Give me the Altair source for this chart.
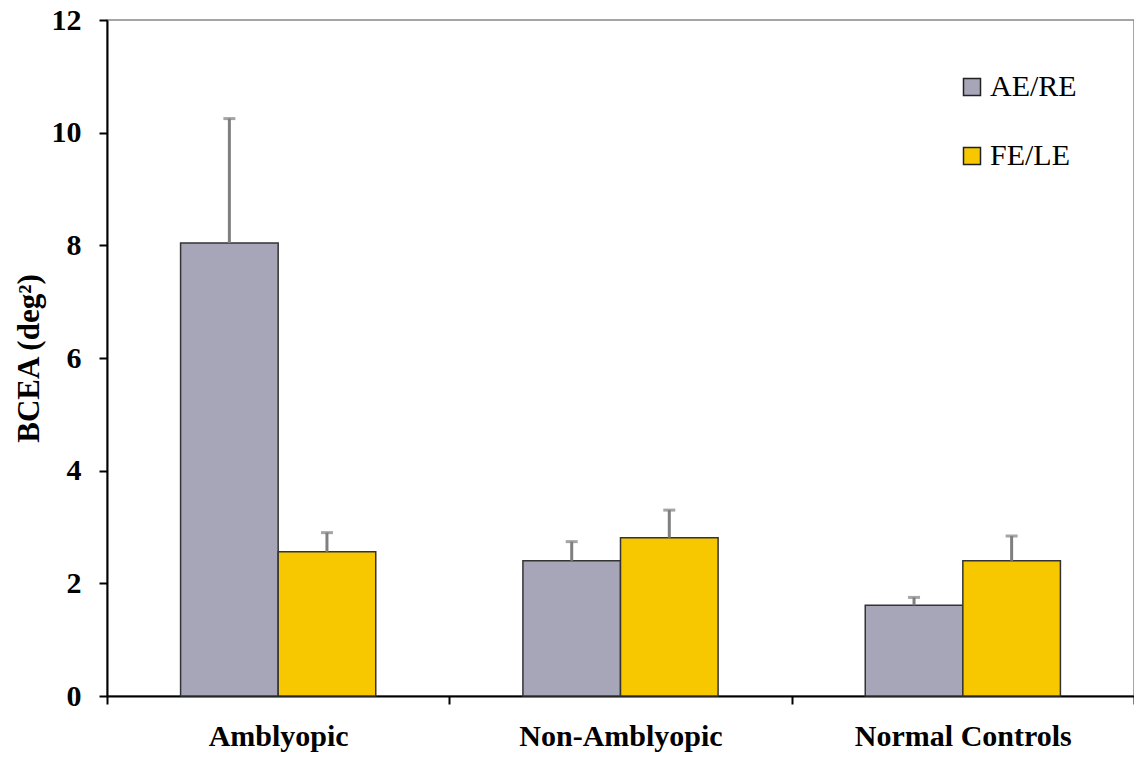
import altair as alt
import pandas as pd

groups = ["Amblyopic", "Non-Amblyopic", "Normal Controls"]
eyes = ["AE/RE", "FE/LE"]
ae_mean = [8.04, 2.40, 1.61]
ae_upper = [10.25, 2.74, 1.75]
fe_mean = [2.56, 2.81, 2.40]
fe_upper = [2.90, 3.30, 2.84]
colors = ["#A7A6B8", "#F7C800"]
y_ticks = [0, 2, 4, 6, 8, 10, 12]

rows = []
for i, g in enumerate(groups):
    rows.append({"group": g, "eye": eyes[0], "mean": ae_mean[i], "upper": ae_upper[i]})
    rows.append({"group": g, "eye": eyes[1], "mean": fe_mean[i], "upper": fe_upper[i]})
df = pd.DataFrame(rows)

FONT = "Liberation Serif"

x_enc = alt.X(
    "group:N",
    sort=groups,
    scale=alt.Scale(paddingInner=0, paddingOuter=0),
    axis=alt.Axis(
        title=None, labelAngle=0, tickBand="extent", tickSize=8, tickWidth=2,
        tickColor="black", domainColor="black", domainWidth=2,
        labelFont=FONT, labelFontSize=30, labelFontWeight="bold", labelColor="black",
        labelPadding=17, labelLimit=0,
    ),
)
xo_enc = alt.XOffset("eye:N", sort=eyes, scale=alt.Scale(paddingInner=0, paddingOuter=0.754))
y_scale = alt.Scale(domain=[0, 12], nice=False)

bars = alt.Chart(df).mark_bar(stroke="#333333", strokeWidth=1.5).encode(
    x=x_enc,
    xOffset=xo_enc,
    y=alt.Y(
        "mean:Q",
        scale=y_scale,
        axis=alt.Axis(
            values=y_ticks, format="d", grid=False, title="BCEA (deg²)", tickSize=8, tickWidth=2,
            tickColor="black", domainColor="black", domainWidth=2,
            labelFont=FONT, labelFontSize=30, labelFontWeight="bold", labelColor="black",
            labelPadding=18, titleFont=FONT, titleFontSize=31, titleFontWeight="bold",
            titleColor="black", titlePadding=6,
        ),
    ),
    color=alt.Color(
        "eye:N",
        sort=eyes,
        scale=alt.Scale(domain=eyes, range=colors),
        legend=alt.Legend(
            title=None, orient="none", legendX=850, legendY=52,
            symbolType="square", symbolSize=289, symbolStrokeColor="#222222",
            symbolStrokeWidth=1.5, symbolOpacity=1,
            labelFont=FONT, labelFontSize=30, labelColor="black", labelOffset=3,
            rowPadding=39,
        ),
    ),
)

err = alt.Chart(df).mark_rule(color="#7F7F7F", strokeWidth=3).encode(
    x=x_enc, xOffset=xo_enc, y=alt.Y("mean:Q", scale=y_scale), y2="upper:Q"
)
cap = alt.Chart(df).mark_tick(color="#7F7F7F", orient="horizontal", size=12, thickness=3).encode(
    x=x_enc, xOffset=xo_enc, y=alt.Y("upper:Q", scale=y_scale)
)

chart = (
    alt.layer(bars, err, cap)
    .properties(
        width=1027, height=676,
        autosize=alt.AutoSizeParams(type="none"),
        padding={"left": 99, "top": 12, "right": 0, "bottom": 62},
    )
    .configure_view(stroke="#888888", strokeWidth=1.5)
)

chart.save("out.html", embed_options={"renderer": "svg", "actions": False})
